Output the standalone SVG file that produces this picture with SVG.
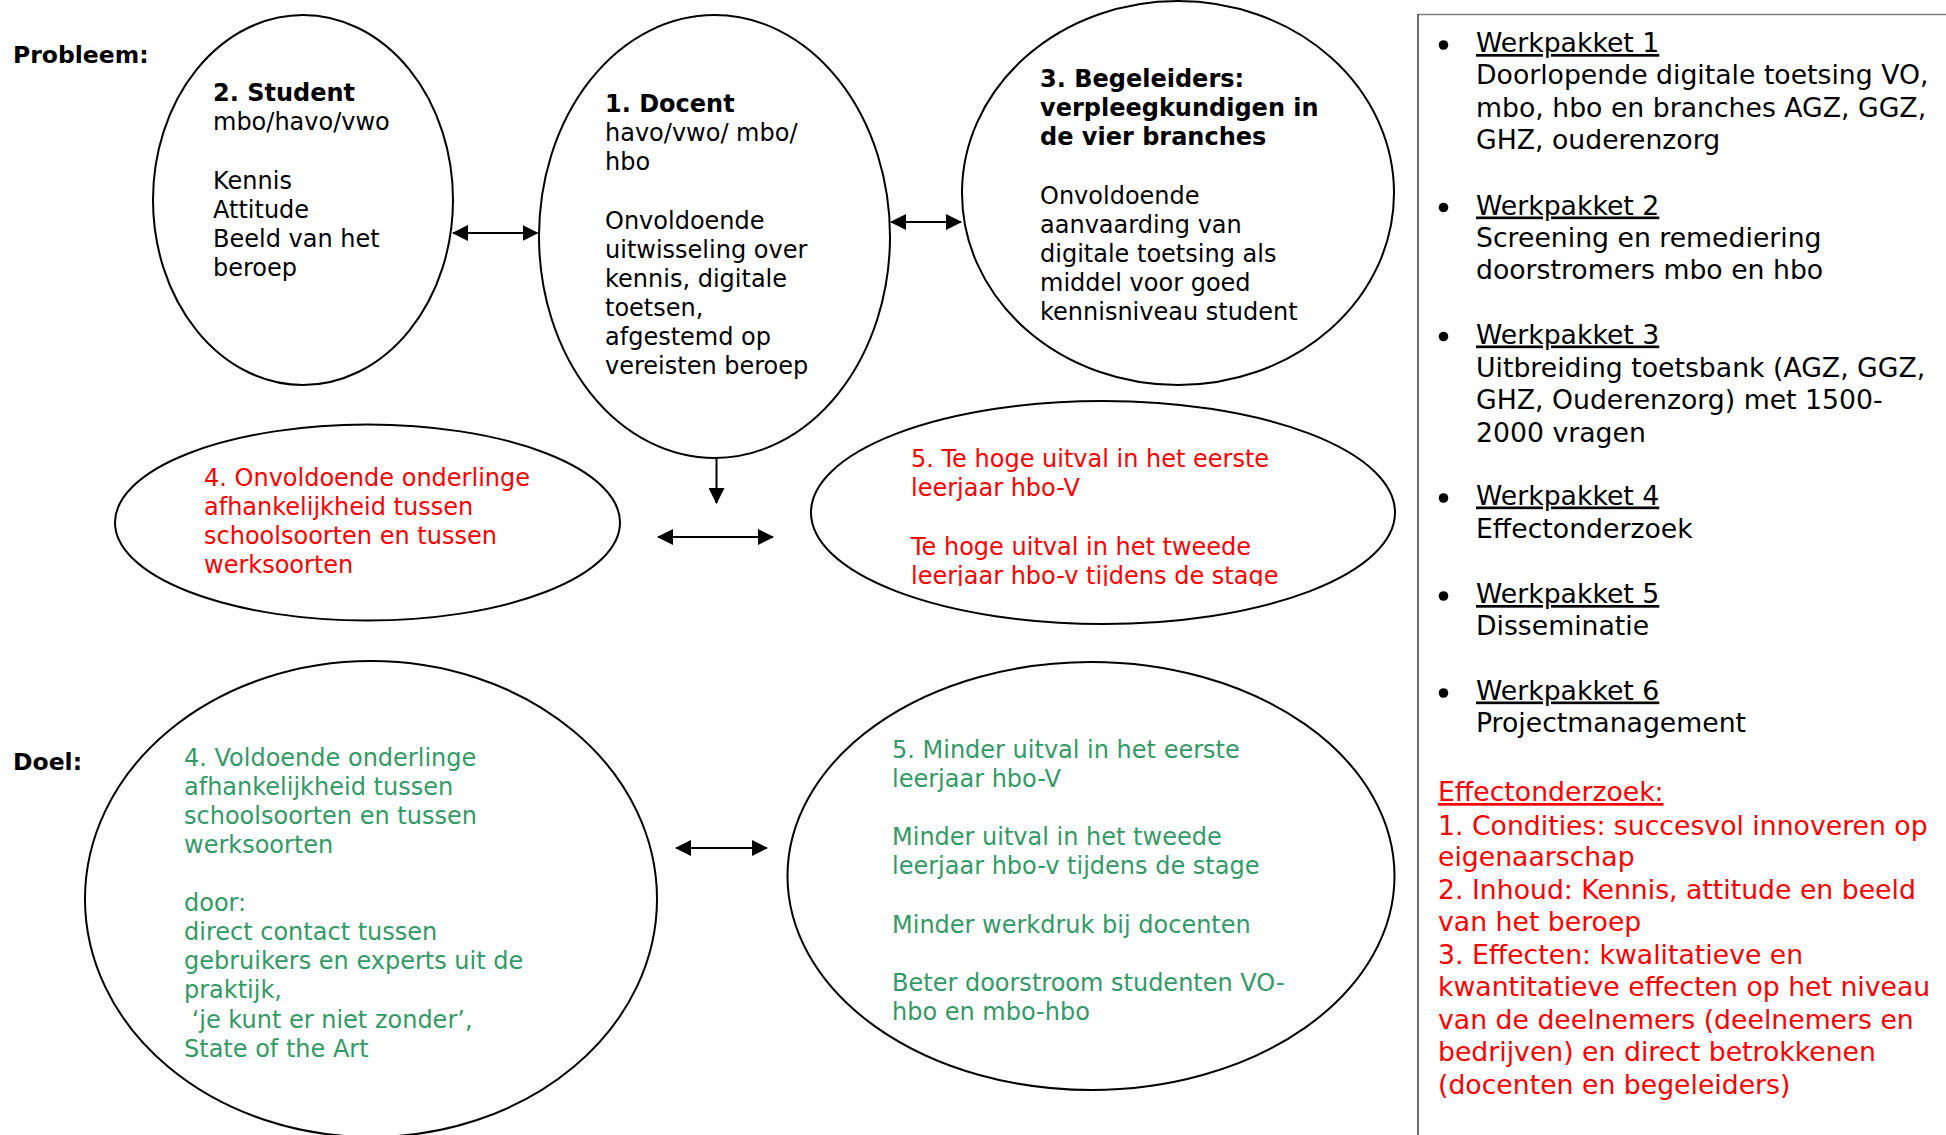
<svg xmlns="http://www.w3.org/2000/svg" width="1946" height="1135" viewBox="0 0 1946 1135">
<style>
text{font-family:'DejaVu Sans',Verdana,sans-serif;font-size:24px;fill:#000}
.b{font-weight:bold}
.h{font-weight:bold;font-size:23.5px}
.r{fill:#ff0000}
.g{fill:#339966}
.w{font-size:26.7px}
.u{text-decoration:underline}
.node{fill:#fff;stroke:#000;stroke-width:2}
.conn{stroke:#000;stroke-width:2;fill:none}
</style>
<defs>
<marker id="ah" viewBox="0 0 16 16" refX="15" refY="8" markerWidth="16" markerHeight="16" markerUnits="userSpaceOnUse" orient="auto-start-reverse">
<path d="M0,0 L16,8 L0,16 Z" fill="#000"/>
</marker>
<clipPath id="c5"><rect x="800" y="400" width="600" height="186"/></clipPath>
</defs>
<rect width="1946" height="1135" fill="#fff"/>
<text class="h" x="13" y="63">Probleem:</text>
<text class="h" x="13" y="770">Doel:</text>

<g id="student">
<ellipse class="node" cx="303" cy="200" rx="150" ry="185"/>
<text class="b" x="213" y="101">2. Student</text>
<text x="213" y="130">mbo/havo/vwo</text>
<text x="213" y="189">Kennis</text>
<text x="213" y="218">Attitude</text>
<text x="213" y="247">Beeld van het</text>
<text x="213" y="276">beroep</text>
</g>

<g id="docent">
<ellipse class="node" cx="714.5" cy="236.5" rx="175.5" ry="221.5"/>
<text class="b" x="605" y="112">1. Docent</text>
<text x="605" y="141">havo/vwo/ mbo/</text>
<text x="605" y="170">hbo</text>
<text x="605" y="229">Onvoldoende</text>
<text x="605" y="258">uitwisseling over</text>
<text x="605" y="287">kennis, digitale</text>
<text x="605" y="316">toetsen,</text>
<text x="605" y="345">afgestemd op</text>
<text x="605" y="374">vereisten beroep</text>
</g>

<g id="begeleiders">
<ellipse class="node" cx="1178" cy="193" rx="216" ry="192"/>
<text class="b" x="1040" y="87">3. Begeleiders:</text>
<text class="b" x="1040" y="116">verpleegkundigen in</text>
<text class="b" x="1040" y="145">de vier branches</text>
<text x="1040" y="204">Onvoldoende</text>
<text x="1040" y="233">aanvaarding van</text>
<text x="1040" y="262">digitale toetsing als</text>
<text x="1040" y="291">middel voor goed</text>
<text x="1040" y="320">kennisniveau student</text>
</g>

<g id="probleem4">
<ellipse class="node" cx="367.5" cy="522.5" rx="252.5" ry="98"/>
<text class="r" x="204" y="486">4. Onvoldoende onderlinge</text>
<text class="r" x="204" y="515">afhankelijkheid tussen</text>
<text class="r" x="204" y="544">schoolsoorten en tussen</text>
<text class="r" x="204" y="573">werksoorten</text>
</g>

<g id="probleem5">
<ellipse class="node" cx="1103" cy="512.5" rx="292" ry="111.5"/>
<g clip-path="url(#c5)">
<text class="r" x="911" y="467">5. Te hoge uitval in het eerste</text>
<text class="r" x="911" y="496">leerjaar hbo-V</text>
<text class="r" x="911" y="555">Te hoge uitval in het tweede</text>
<text class="r" x="911" y="584">leerjaar hbo-v tijdens de stage</text>
</g>
</g>

<g id="doel4">
<ellipse class="node" cx="371" cy="899" rx="286" ry="238"/>
<text class="g" x="184" y="766">4. Voldoende onderlinge</text>
<text class="g" x="184" y="795">afhankelijkheid tussen</text>
<text class="g" x="184" y="824">schoolsoorten en tussen</text>
<text class="g" x="184" y="853">werksoorten</text>
<text class="g" x="184" y="911">door:</text>
<text class="g" x="184" y="940">direct contact tussen</text>
<text class="g" x="184" y="969">gebruikers en experts uit de</text>
<text class="g" x="184" y="998">praktijk,</text>
<text class="g" x="184" y="1028" xml:space="preserve"> ‘je kunt er niet zonder’,</text>
<text class="g" x="184" y="1057">State of the Art</text>
</g>

<g id="doel5">
<ellipse class="node" cx="1091" cy="876" rx="303.5" ry="214"/>
<text class="g" x="892" y="757.5">5. Minder uitval in het eerste</text>
<text class="g" x="892" y="786.5">leerjaar hbo-V</text>
<text class="g" x="892" y="845">Minder uitval in het tweede</text>
<text class="g" x="892" y="874">leerjaar hbo-v tijdens de stage</text>
<text class="g" x="892" y="932.5">Minder werkdruk bij docenten</text>
<text class="g" x="892" y="991">Beter doorstroom studenten VO-</text>
<text class="g" x="892" y="1020">hbo en mbo-hbo</text>
</g>

<g id="werkpakketten">
<line x1="1418" y1="14.5" x2="1946" y2="14.5" stroke="#808080" stroke-width="1.5"/>
<line x1="1418" y1="14" x2="1418" y2="1135" stroke="#404040" stroke-width="1.5"/>
<g fill="#000">
<circle cx="1443.5" cy="45" r="4.8"/>
<circle cx="1443.5" cy="207.5" r="4.8"/>
<circle cx="1443.5" cy="336.5" r="4.8"/>
<circle cx="1443.5" cy="498" r="4.8"/>
<circle cx="1443.5" cy="596" r="4.8"/>
<circle cx="1443.5" cy="693" r="4.8"/>
</g>
<text class="w u" x="1476" y="52">Werkpakket 1</text>
<text class="w" x="1476" y="84">Doorlopende digitale toetsing VO,</text>
<text class="w" x="1476" y="116.5">mbo, hbo en branches AGZ, GGZ,</text>
<text class="w" x="1476" y="148.5">GHZ, ouderenzorg</text>
<text class="w u" x="1476" y="214.5">Werkpakket 2</text>
<text class="w" x="1476" y="246.5">Screening en remediering</text>
<text class="w" x="1476" y="279">doorstromers mbo en hbo</text>
<text class="w u" x="1476" y="343.5">Werkpakket 3</text>
<text class="w" x="1476" y="376.5">Uitbreiding toetsbank (AGZ, GGZ,</text>
<text class="w" x="1476" y="409">GHZ, Ouderenzorg) met 1500-</text>
<text class="w" x="1476" y="441.5">2000 vragen</text>
<text class="w u" x="1476" y="504.5">Werkpakket 4</text>
<text class="w" x="1476" y="538">Effectonderzoek</text>
<text class="w u" x="1476" y="603">Werkpakket 5</text>
<text class="w" x="1476" y="635">Disseminatie</text>
<text class="w u" x="1476" y="699.5">Werkpakket 6</text>
<text class="w" x="1476" y="732">Projectmanagement</text>
<text class="w r u" x="1438" y="801">Effectonderzoek:</text>
<text class="w r" x="1438" y="834.5">1. Condities: succesvol innoveren op</text>
<text class="w r" x="1438" y="866">eigenaarschap</text>
<text class="w r" x="1438" y="899">2. Inhoud: Kennis, attitude en beeld</text>
<text class="w r" x="1438" y="930.5">van het beroep</text>
<text class="w r" x="1438" y="963.5">3. Effecten: kwalitatieve en</text>
<text class="w r" x="1438" y="996">kwantitatieve effecten op het niveau</text>
<text class="w r" x="1438" y="1028.5">van de deelnemers (deelnemers en</text>
<text class="w r" x="1438" y="1060.5">bedrijven) en direct betrokkenen</text>
<text class="w r" x="1438" y="1094">(docenten en begeleiders)</text>
</g>

<g id="connectors">
<line class="conn" x1="453" y1="233" x2="537.5" y2="233" marker-start="url(#ah)" marker-end="url(#ah)"/>
<line class="conn" x1="891" y1="222" x2="961" y2="222" marker-start="url(#ah)" marker-end="url(#ah)"/>
<line class="conn" x1="716.5" y1="458" x2="716.5" y2="503" marker-end="url(#ah)"/>
<line class="conn" x1="658" y1="537" x2="773" y2="537" marker-start="url(#ah)" marker-end="url(#ah)"/>
<line class="conn" x1="676" y1="848" x2="767" y2="848" marker-start="url(#ah)" marker-end="url(#ah)"/>
</g>
</svg>
